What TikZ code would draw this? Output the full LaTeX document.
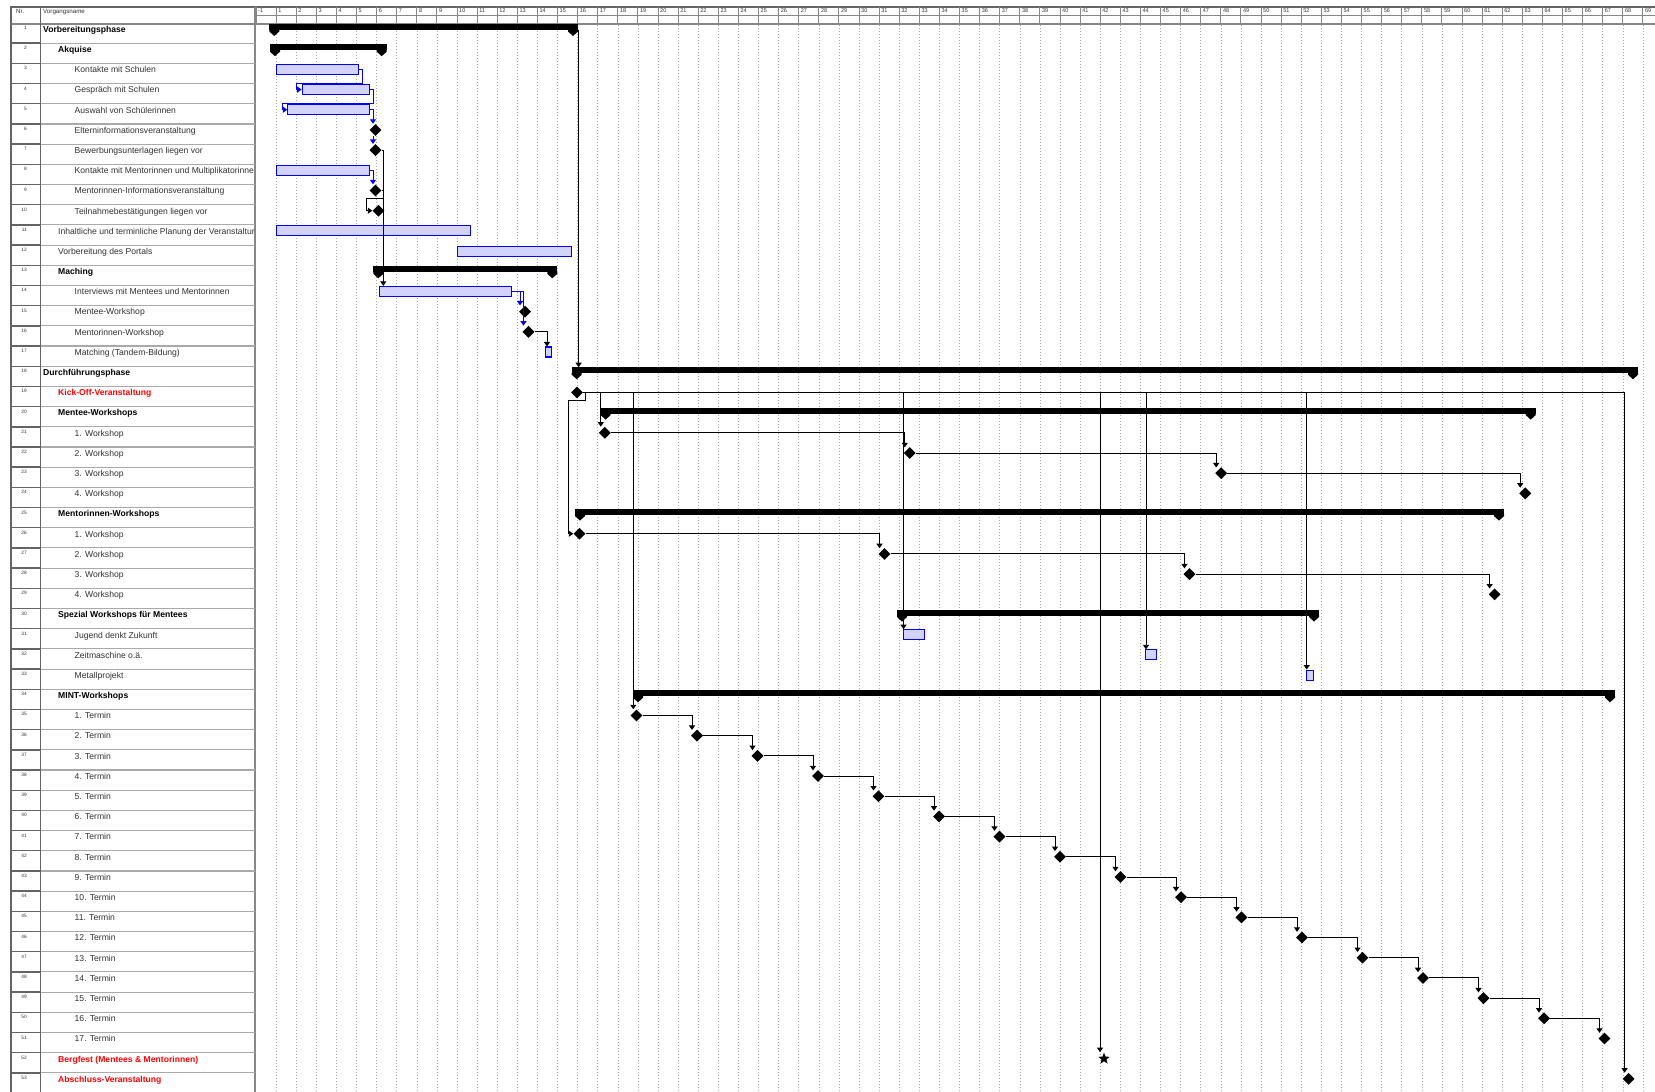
\documentclass[tikz,border=0pt]{standalone}
\usepackage{fontspec}
\setmainfont{Liberation Sans}
\usetikzlibrary{arrows.meta,shapes.geometric}
\definecolor{barfill}{RGB}{210,210,250}
\definecolor{barblue}{RGB}{0,0,255}
\definecolor{gridgray}{RGB}{170,170,170}
\definecolor{sepgray}{RGB}{170,170,170}
\definecolor{darksep}{RGB}{100,100,100}
\definecolor{txtgray}{RGB}{50,50,50}
\definecolor{hdrgray}{RGB}{135,135,135}
\definecolor{redtxt}{RGB}{255,0,0}
\newcommand\summbar[3]{%
  \fill ({#2-5},{rt(#1)+1}) rectangle ({#3+5},{rt(#1)+7});
  \fill ({#2-5},{rt(#1)+6.5}) -- ({#2+5},{rt(#1)+6.5}) -- ({#2+5},{rt(#1)+8.5}) -- ({#2},{rt(#1)+13}) -- ({#2-5},{rt(#1)+8.5}) -- cycle;
  \fill ({#3-5},{rt(#1)+6.5}) -- ({#3+5},{rt(#1)+6.5}) -- ({#3+5},{rt(#1)+8.5}) -- ({#3},{rt(#1)+13}) -- ({#3-5},{rt(#1)+8.5}) -- cycle;
}
\begin{document}
\begin{tikzpicture}[x=1pt,y=-1pt,
  declare function={rt(\i)=23+20.19*(\i-1); rc(\i)=29+20.19*(\i-1); gx(\j)=256+20.1*\j;},
  task/.style={draw=barblue,fill=barfill,line width=1.1pt,inner sep=0pt,minimum height=10pt,anchor=west,rectangle},
  ms/.style={diamond,fill=black,inner sep=0pt,minimum width=12pt,minimum height=12pt},
  lnk/.style={draw=black,line width=0.9pt,-{Triangle[width=6pt,length=4.5pt]}},
  plainlnk/.style={draw=black,line width=0.9pt},
  blnk/.style={draw=barblue,line width=1pt,-{Triangle[width=6pt,length=4.5pt]}},
  nm/.style={anchor=base west,inner sep=0pt,font=\fontsize{8.6}{9}\selectfont,text=txtgray},
  nmb/.style={anchor=base west,inner sep=0pt,font=\fontsize{8.6}{9}\selectfont\bfseries,text=black},
  nmr/.style={anchor=base west,inner sep=0pt,font=\fontsize{8.6}{9}\selectfont\bfseries,text=redtxt},
  hdrsm/.style={anchor=base west,inner sep=0pt,font=\fontsize{6.2}{7}\selectfont,text=txtgray},
  hdrlab/.style={anchor=base west,inner sep=0pt,font=\fontsize{5.5}{6}\selectfont,text=txtgray},
  numst/.style={anchor=base east,inner sep=0pt,font=\fontsize{4.8}{5}\selectfont,text=txtgray},
  gridline/.style={draw=gridgray,line width=0.55pt,dash pattern=on 0.7pt off 2.3pt}
]
\useasboundingbox (0,0) rectangle (1655,1092);
\fill[white] (0,0) rectangle (1655,1092);
% ---------- grid ----------
\foreach \j in {1,...,69} \draw[gridline] ({gx(\j)},25) -- ({gx(\j)},1092);
% ---------- header ----------
\draw[darksep,line width=1.2pt] (10,7) -- (1655,7);
\draw[hdrgray,line width=1pt] (256,15) -- (1655,15);
\draw[hdrgray,line width=2pt] (10,24) -- (1655,24);
\foreach \j in {0,...,69} \draw[hdrgray,line width=1pt] ({gx(\j)},7) -- ({gx(\j)},23);
\node[hdrlab] (h0) at ({gx(0)+2},12.8) {-1};
\foreach \j in {1,...,69} \node[hdrlab] (h\j) at ({gx(\j)+2},12.8) {\j};
\node[hdrsm] (hnr) at (16,13) {Nr.};
\node[hdrsm] (hvn) at (43,13) {Vorgangsname};
% ---------- table ----------
\draw[darksep,line width=2pt] (11,7) -- (11,1092);
\draw[darksep,line width=1pt] (40.5,7) -- (40.5,1092);
\draw[hdrgray,line width=1.6pt] (255,7) -- (255,1092);
\foreach \i in {2,...,53} {
  \draw[darksep,line width=1.4pt] (11,{rt(\i)}) -- (40.5,{rt(\i)});
  \draw[sepgray,line width=1.1pt] (40.5,{rt(\i)}) -- (255,{rt(\i)});
}
\foreach \i in {1,...,53} \node[numst] (r\i) at (27,{rt(\i)+6.5}) {\i};
\begin{scope}
\clip (41,23) rectangle (254,1092);
\foreach \i/\x/\t in {1/43/Vorbereitungsphase, 2/58/Akquise, 13/58/Maching, 18/43/Durchführungsphase,
   20/58/Mentee-Workshops, 25/58/Mentorinnen-Workshops, 30/58/Spezial Workshops für Mentees, 34/58/MINT-Workshops}
  \node[nmb] (n\i) at (\x,{rt(\i)+9.3}) {\t};
\foreach \i/\t in {19/Kick-Off-Veranstaltung, 52/{Bergfest (Mentees \& Mentorinnen)}, 53/Abschluss-Veranstaltung}
  \node[nmr] (n\i) at (58,{rt(\i)+9.3}) {\t};
\foreach \i/\t in {11/Inhaltliche und terminliche Planung der Veranstaltur, 12/Vorbereitung des Portals}
  \node[nm] (n\i) at (58,{rt(\i)+9.3}) {\t};
\foreach \i/\t in {3/Kontakte mit Schulen, 4/Gespräch mit Schulen, 5/Auswahl von Schülerinnen,
   6/Elterninformationsveranstaltung, 7/Bewerbungsunterlagen liegen vor,
   8/Kontakte mit Mentorinnen und Multiplikatorinne, 9/Mentorinnen-Informationsveranstaltung,
   10/Teilnahmebestätigungen liegen vor, 14/Interviews mit Mentees und Mentorinnen,
   15/Mentee-Workshop, 16/Mentorinnen-Workshop, 17/{Matching (Tandem-Bildung)},
   21/1. Workshop, 22/2. Workshop, 23/3. Workshop, 24/4. Workshop,
   26/1. Workshop, 27/2. Workshop, 28/3. Workshop, 29/4. Workshop,
   31/Jugend denkt Zukunft, 32/Zeitmaschine o.ä., 33/Metallprojekt}
  \node[nm] (n\i) at (74.5,{rt(\i)+9.3}) {\t};
\foreach \k in {1,...,17} {
  \pgfmathtruncatemacro\r{34+\k}
  \node[nm] (n\r) at (74.5,{rt(\r)+9.3}) {\k. Termin};
}
\end{scope}
% ---------- summary bars ----------
\summbar{1}{274.3}{573}
\summbar{2}{275}{381.7}
\summbar{13}{378.3}{552.3}
\summbar{18}{576.7}{1633}
\summbar{20}{605.6}{1530.7}
\summbar{25}{580}{1499}
\summbar{30}{902}{1314}
\summbar{34}{638}{1610}
% ---------- task bars ----------
\node[task,minimum width=82.3pt] (t3) at (276,{rc(3)}) {};
\node[task,minimum width=67.6pt] (t4) at (301.7,{rc(4)}) {};
\node[task,minimum width=82pt] (t5) at (287.3,{rc(5)}) {};
\node[task,minimum width=93.3pt] (t8) at (276,{rc(8)}) {};
\node[task,minimum width=194pt] (t11) at (276,{rc(11)}) {};
\node[task,minimum width=113.7pt] (t12) at (457.3,{rc(12)}) {};
\node[task,minimum width=131.4pt] (t14) at (379.3,{rc(14)}) {};
\node[task,minimum width=5.7pt] (t17) at (545,{rc(17)}) {};
\node[task,minimum width=21pt] (t31) at (902.5,{rc(31)}) {};
\node[task,minimum width=11pt] (t32) at (1145,{rc(32)}) {};
\node[task,minimum width=7.3pt] (t33) at (1305.7,{rc(33)}) {};
% ---------- milestones ----------
\node[ms] (m6) at (375.5,{rc(6)}) {};
\node[ms] (m7) at (375.5,{rc(7)}) {};
\node[ms] (m9) at (375.5,{rc(9)}) {};
\node[ms] (m10) at (378.5,{rc(10)}) {};
\node[ms] (m15) at (525,{rc(15)}) {};
\node[ms] (m16) at (528.5,{rc(16)}) {};
\node[ms] (m19) at (577,{rc(19)}) {};
\foreach \r/\x in {21/604.8, 22/909.8, 23/1221.2, 24/1525.2, 26/579.5, 27/884.5, 28/1189.5, 29/1494.6}
  \node[ms] (m\r) at (\x,{rc(\r)}) {};
\foreach \k in {0,...,16} {
  \pgfmathtruncatemacro\r{35+\k}
  \node[ms] (m\r) at ({636.5+60.5*\k},{rc(\r)}) {};
}
\node[star,star points=5,star point ratio=2.3,fill=black,inner sep=0pt,minimum size=12pt] (m52) at (1104,{rc(52)}) {};
\node[ms] (m53) at (1628.6,{rc(53)}) {};
% ---------- links: preparation ----------
\draw[blnk] (t3.east) -- (362,{rc(3)}) -- (362,83.3) -- (296,83.3) |- (t4.west);
\draw[blnk] (t4.east) -- (373.3,{rc(4)}) -- (373.3,103.4) -- (282,103.4) |- (t5.west);
\draw[blnk] (t5.east) -| ([xshift=-2.5pt]m6.north);
\draw[blnk] ([xshift=-2.5pt]m6.south) -- ([xshift=-2.5pt]m7.north);
\draw[blnk] (t8.east) -| ([xshift=-2.5pt]m9.north);
\draw[lnk] (m7.east) -| ([xshift=4pt]t14.north west);
\draw[plainlnk] (m9.east) -- ([xshift=4pt]t14.north west |- m9.east);
\draw[lnk] ([xshift=4pt]t14.north west |- m9.east) -- ++(0,7.8) -- ++(-17.3,0) |- (m10.west);
\draw[blnk] (t14.east) -| ([xshift=-5pt]m15.north);
\draw[blnk] (t14.east) -| ([xshift=-5pt]m16.north);
\draw[lnk] (m16.east) -| ([xshift=2pt]t17.north west);
\coordinate (s1end) at (578.6,{rt(1)+7});
\coordinate (s18top) at (578.6,{rt(18)+1});
\draw[lnk] (s1end) -- (s18top);
% ---------- links: execution ----------
\draw[lnk] (m19.east) -| ([xshift=-4pt]m53.north);
\draw[lnk] ([xshift=8pt]m19.center) -- ++(0,8) -- ++(-16.7,0) |- (m26.west);
\draw[lnk] ([xshift=-4pt]m21.north |- m19.east) -- ([xshift=-4pt]m21.north);
\draw[lnk] ([xshift=-3.2pt]m35.north |- m19.east) -- ([xshift=-3.2pt]m35.north);
\draw[lnk] ([xshift=1pt]t31.north west |- m19.east) -- ([xshift=1pt]t31.north west);
\draw[lnk] ([xshift=1pt]t32.north west |- m19.east) -- ([xshift=1pt]t32.north west);
\draw[lnk] ([xshift=1pt]t33.north west |- m19.east) -- ([xshift=1pt]t33.north west);
\draw[lnk] ([xshift=-4pt]m52.north |- m19.east) -- ([xshift=-4pt]m52.north);
\foreach \a/\b in {21/22, 22/23, 23/24, 26/27, 27/28, 28/29}
  \draw[lnk] (m\a.east) -| ([xshift=-5pt,yshift=-0.5pt]m\b.north);
\foreach \a in {35,...,50} {
  \pgfmathtruncatemacro\b{\a+1}
  \draw[lnk] (m\a.east) -| ([xshift=-5pt,yshift=-0.5pt]m\b.north);
}
\end{tikzpicture}
\end{document}
